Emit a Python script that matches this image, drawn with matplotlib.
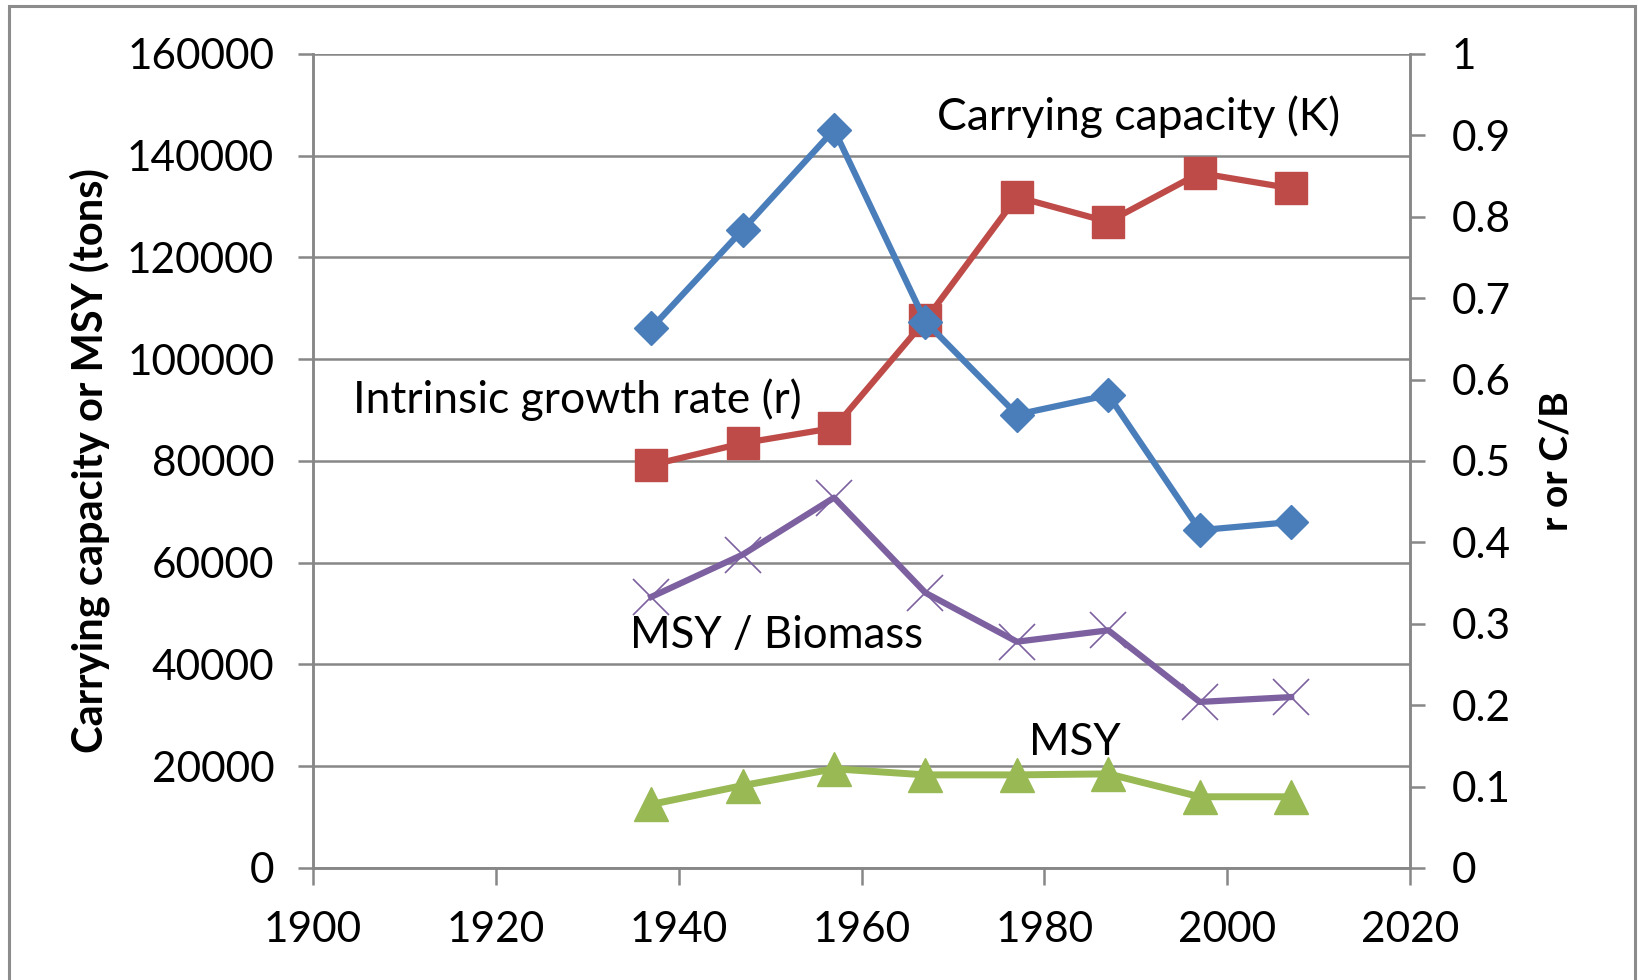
import matplotlib.pyplot as plt
import matplotlib as mpl
from matplotlib.patches import Rectangle

# data
years = [1937, 1947, 1957, 1967, 1977, 1987, 1997, 2007]
carrying_capacity = [79200, 83500, 86500, 107700, 131900, 127000, 136600, 133600]  # tons, left axis
msy = [12500, 16200, 19500, 18300, 18300, 18500, 14000, 14000]  # tons, left axis
growth_rate = [0.663, 0.784, 0.907, 0.671, 0.557, 0.581, 0.415, 0.425]  # right axis
msy_biomass = [0.333, 0.385, 0.455, 0.338, 0.278, 0.292, 0.204, 0.210]  # right axis

left_ticks = list(range(0, 160001, 20000))
right_ticks = [i / 10 for i in range(11)]
right_labels = ['0', '0.1', '0.2', '0.3', '0.4', '0.5', '0.6', '0.7', '0.8', '0.9', '1']
x_ticks = list(range(1900, 2021, 20))

BLUE = '#4A7EBB'
RED = '#BE4B48'
PURPLE = '#7D60A0'
GREEN = '#98B954'
GRID = '#878787'

mpl.rcParams['font.family'] = ['Lato', 'DejaVu Sans']

fig = plt.figure(figsize=(16.38, 9.8), dpi=100)
ax = fig.add_axes([0.1911, 0.1143, 0.6697, 0.8306])
ax2 = ax.twinx()

# left axis series
ax.plot(years, carrying_capacity, color=RED, lw=4.5, marker='s', ms=23,
        markerfacecolor=RED, markeredgecolor=RED, zorder=3)
ax.plot(years, msy, color=GREEN, lw=5, marker='^', ms=24,
        markerfacecolor=GREEN, markeredgecolor=GREEN, zorder=3)

# right axis series
ax2.plot(years, growth_rate, color=BLUE, lw=4.5, marker='D', ms=17,
         markerfacecolor=BLUE, markeredgecolor=BLUE, zorder=3)
ax2.plot(years, msy_biomass, color=PURPLE, lw=4.5, marker='x', ms=26,
         markeredgewidth=1.2, markeredgecolor=PURPLE, zorder=3)

ax.set_xlim(1900, 2020)
ax.set_ylim(0, 160000)
ax2.set_ylim(0, 1)

ax.set_xticks(x_ticks)
ax.set_yticks(left_ticks)
ax2.set_yticks(right_ticks)
ax2.set_yticklabels(right_labels)

ax.yaxis.grid(True, color=GRID, lw=1.8)
ax.set_axisbelow(True)

for a in (ax, ax2):
    a.spines['top'].set_visible(False)
    for s in ('left', 'right', 'bottom'):
        a.spines[s].set_color(GRID)
        a.spines[s].set_linewidth(1.8)

ax.tick_params(axis='y', direction='out', length=11, width=1.8, color=GRID,
               labelsize=30.5, pad=17)
ax.tick_params(axis='x', direction='out', length=12, width=1.8, color=GRID,
               labelsize=30.5, pad=19)
ax2.tick_params(axis='y', direction='out', length=11, width=1.8, color=GRID,
                labelsize=30.5, pad=19)

ax.set_ylabel('Carrying capacity or MSY (tons)', fontsize=30, fontweight='bold',
              labelpad=12)
ax2.set_ylabel('r or C/B', fontsize=28, fontweight='bold', labelpad=20)

# series labels
ax.text(1968.3, 147600, 'Carrying capacity (K)', fontsize=32, ha='left', va='center')
ax.text(1904.4, 92000, 'Intrinsic growth rate (r)', fontsize=32, ha='left', va='center')
ax.text(1934.7, 45600, 'MSY / Biomass', fontsize=31.5, ha='left', va='center')
ax.text(1978.3, 24600, 'MSY', fontsize=31.5, ha='left', va='center')

# outer chart border
fig.patches.append(Rectangle((9 / 1638, -0.02), (1635 - 9) / 1638, 1.02 - 6 / 980,
                             transform=fig.transFigure, fill=False,
                             edgecolor='#8C8C8C', lw=2.2))

plt.savefig('out.png', dpi=100)
